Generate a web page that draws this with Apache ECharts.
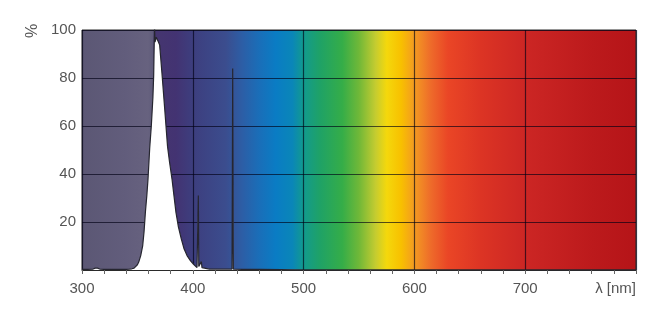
<!DOCTYPE html>
<html>
<head>
<meta charset="utf-8">
<script src="https://cdn.jsdelivr.net/npm/echarts@6/dist/echarts.min.js"></script>
<style>
html,body{margin:0;padding:0;background:#fff;}
#c{width:660px;height:317px;}
</style>
</head>
<body>
<div id="c"></div>
<script>
// Wavelength (nm) and relative intensity (%)
var wavelengths = [300, 305, 310, 312, 313, 314, 316, 320, 330, 340, 343, 345, 347, 348.2, 350, 351.2, 353, 354.8, 356, 357.2, 358.5, 359.6, 361.1, 362.6, 364, 364.7, 365.2, 365.5, 365.9, 366.3, 367, 368, 369, 370.1, 372.3, 374.6, 377.2, 379, 381.2, 383, 384.8, 387, 389.6, 392, 394.8, 398, 400.7, 403.8, 404.6, 405, 405.4, 406, 407.2, 407.7, 408.3, 409, 415, 425, 435.4, 435.7, 436, 436.3, 436.6, 445, 460, 480, 500, 800];
var intensity   = [0.3, 0.3, 0.4, 0.8, 1.3, 0.8, 0.4, 0.3, 0.3, 0.3, 0.4, 0.5, 0.8, 1.2, 2.2, 3.3, 6, 10.2, 16, 24, 31, 38, 50.7, 60.3, 72, 81.2, 95, 101, 95, 95.5, 97, 96.5, 95, 93.7, 81.2, 67.4, 51.5, 45, 38, 31, 24, 18, 13, 9, 6, 3.8, 2.4, 1.0, 0.8, 31, 1.5, 1.2, 1.5, 3.5, 1, 0.5, 0.4, 0.4, 0.4, 37, 84, 37, 0.4, 0.3, 0.3, 0.2, 0, 0];
var xTickLabels = {300: '300', 400: '400', 500: '500', 600: '600', 700: '700', 800: 'λ [nm]'};
var yTickLabels = {20: '20', 40: '40', 60: '60', 80: '80', 100: '100'};

// Visible spectrum background colours by wavelength
var bgStopsNm = [300, 340, 360, 364.5, 365.5, 385, 400, 430, 445, 460, 475, 490, 500, 515, 535, 550, 565, 575, 588, 600, 615, 630, 660, 700, 760, 800];
var bgStopsColor = ['#5b5774', '#625d7c', '#67627f', '#5e5a7a', '#45366f', '#433372', '#3d3e7e', '#3b4d8e', '#2c5ea6', '#1a6eb8', '#0a7cc4', '#0a86b8', '#129a8e', '#1fa266', '#35ad48', '#70b838', '#c5cc30', '#f4d80c', '#f8c000', '#f39a22', '#ee6a2a', '#ea4626', '#dc3424', '#cc2624', '#bc1a1c', '#b51418'];

var xMin = 300, xMax = 800;
var stops = bgStopsNm.map(function (nm, i) {
  return {offset: (nm - xMin) / (xMax - xMin), color: bgStopsColor[i]};
});
var data = wavelengths.map(function (w, i) { return [w, intensity[i]]; });

var chart = echarts.init(document.getElementById('c'), null, {renderer: 'canvas'});
var font = '"Liberation Sans", Arial, sans-serif';
chart.setOption({
  animation: false,
  backgroundColor: '#ffffff',
  grid: {
    left: 82, right: 24, top: 30, bottom: 47,
    show: true,
    backgroundColor: new echarts.graphic.LinearGradient(0, 0, 1, 0, stops),
    borderColor: '#2a2a2a',
    borderWidth: 1
  },
  graphic: [{
    type: 'text',
    x: 33, y: 31,
    rotation: Math.PI / 2,
    style: {text: '%', font: '16px ' + font, fill: '#555', align: 'center', verticalAlign: 'middle'}
  }],
  xAxis: {
    type: 'value',
    min: xMin, max: xMax, interval: 100,
    axisLine: {show: true, lineStyle: {color: '#2a2a2a', width: 1}},
    axisTick: {show: true, length: 4, lineStyle: {color: '#666'}},
    minorTick: {show: true, splitNumber: 5, length: 4, lineStyle: {color: '#666'}},
    splitLine: {show: true, lineStyle: {color: 'rgba(0,0,20,0.65)', width: 1.2}},
    axisLabel: {
      margin: 11, color: '#555', fontSize: 15, fontFamily: font,
      alignMaxLabel: 'right',
      formatter: function (v) { return xTickLabels[v] || ''; }
    }
  },
  yAxis: {
    type: 'value',
    min: 0, max: 100, interval: 20,
    axisLine: {show: false},
    axisTick: {show: false},
    splitLine: {show: true, lineStyle: {color: 'rgba(0,0,20,0.65)', width: 1.2}},
    axisLabel: {
      margin: 6, color: '#555', fontSize: 15, fontFamily: font,
      formatter: function (v) { return yTickLabels[v] || ''; }
    }
  },
  series: [{
    type: 'line',
    data: data,
    symbol: 'none',
    clip: true,
    lineStyle: {color: '#262630', width: 1.2},
    areaStyle: {color: '#ffffff', opacity: 1}
  }]
});
</script>
</body>
</html>
